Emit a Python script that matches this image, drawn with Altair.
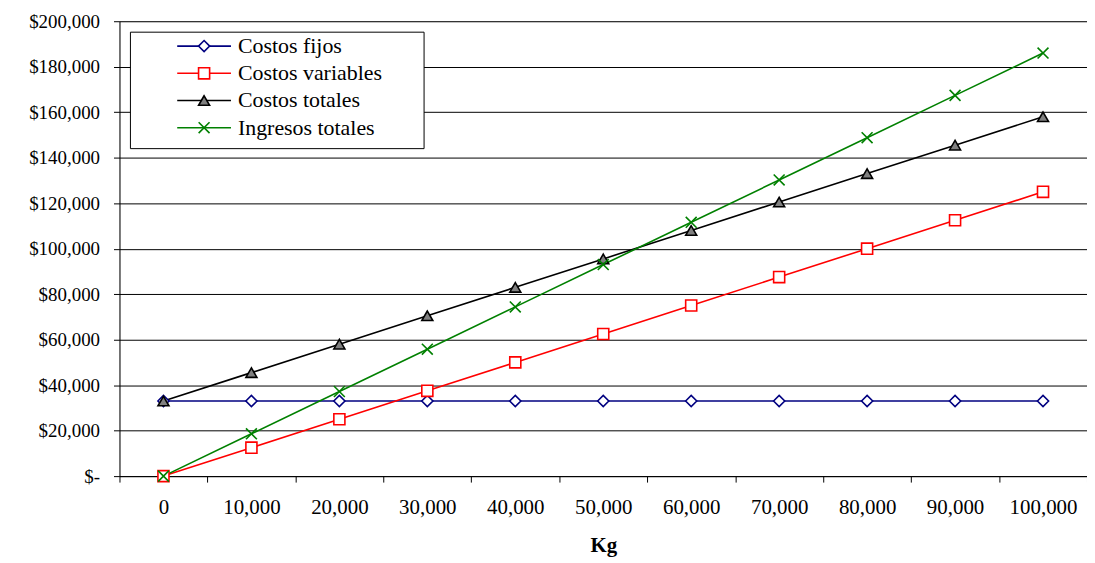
import altair as alt
import pandas as pd

# ---- data ----
kg = [0, 10000, 20000, 30000, 40000, 50000, 60000, 70000, 80000, 90000, 100000]
costos_fijos = [33000, 33000, 33000, 33000, 33000, 33000, 33000, 33000, 33000, 33000, 33000]
costos_variables = [0, 12500, 25000, 37500, 50000, 62500, 75000, 87500, 100000, 112500, 125000]
costos_totales = [33000, 45500, 58000, 70500, 83000, 95500, 108000, 120500, 133000, 145500, 158000]
ingresos_totales = [0, 18600, 37200, 55800, 74400, 93000, 111600, 130200, 148800, 167400, 186000]

series = ["Costos fijos", "Costos variables", "Costos totales", "Ingresos totales"]
colors = ["#000080", "#FF0000", "#000000", "#008000"]
fills = ["#FFFFFF", "#FFFFFF", "#808080", "transparent"]
shapes = ["diamond", "square", "triangle-up", "M-1,-1L1,1M-1,1L1,-1"]
sizes = [125, 120, 260, 190]
y_ticks = [0, 20000, 40000, 60000, 80000, 100000, 120000, 140000, 160000, 180000, 200000]

values = [costos_fijos, costos_variables, costos_totales, ingresos_totales]
rows = []
for s, vals in zip(series, values):
    for k, v in zip(kg, vals):
        rows.append({"kg": k, "valor": v, "serie": s})
df = pd.DataFrame(rows)
legend_df = pd.DataFrame({"serie": series})

FONT = "Liberation Serif"

color_scale = alt.Scale(domain=series, range=colors)
fill_scale = alt.Scale(domain=series, range=fills)
shape_scale = alt.Scale(domain=series, range=shapes)
size_scale = alt.Scale(domain=series, range=sizes)

x_enc = alt.X(
    "kg:O",
    sort=kg,
    scale=alt.Scale(type="band", paddingInner=0, paddingOuter=0),
    axis=alt.Axis(
        title="Kg",
        labelExpr="isNumber(datum.value) ? format(datum.value, ',') : ''",
        labelAngle=0,
        tickBand="extent",
        grid=False,
        domainColor="black",
        tickColor="black",
        tickSize=6,
        labelFont=FONT,
        labelFontSize=21,
        labelColor="black",
        labelPadding=15,
        titleFont=FONT,
        titleFontSize=21,
        titleFontWeight="bold",
        titleColor="black",
        titlePadding=17,
    ),
)

y_scale = alt.Scale(domain=[0, 200000], nice=False, zero=True)

lines = alt.Chart(df).mark_line(strokeWidth=1.6).encode(
    x=x_enc,
    y=alt.Y(
        "valor:Q",
        scale=y_scale,
        axis=alt.Axis(
            title=None,
            values=y_ticks,
            labelExpr="datum.value == 0 ? '$-\u00a0\u00a0\u00a0\u00a0\u00a0' : '$' + format(datum.value, ',')",
            grid=True,
            gridColor="black",
            gridWidth=1,
            domainColor="black",
            tickColor="black",
            tickSize=6,
            labelFont=FONT,
            labelFontSize=19,
            labelColor="black",
            labelPadding=14,
        ),
    ),
    color=alt.Color("serie:N", scale=color_scale, legend=None),
)

points = alt.Chart(df).mark_point(filled=True, opacity=1, strokeWidth=1.6).encode(
    x=x_enc,
    y=alt.Y("valor:Q", scale=y_scale, axis=None),
    shape=alt.Shape("serie:N", scale=shape_scale, legend=None),
    fill=alt.Fill("serie:N", scale=fill_scale, legend=None),
    stroke=alt.Stroke("serie:N", scale=color_scale, legend=None),
    size=alt.Size("serie:N", scale=size_scale, legend=None),
)

# ---- manual legend ----
leg_y = alt.Y(
    "serie:N",
    sort=series,
    scale=alt.Scale(type="point", domain=series, range=[25, 107], padding=0),
    axis=None,
)

leg_box = alt.Chart(pd.DataFrame({"a": [0]})).mark_rect(
    fill="white", stroke="black", strokeWidth=1
).encode(x=alt.value(11), x2=alt.value(306), y=alt.value(11), y2=alt.value(128))

leg_rules = alt.Chart(legend_df).mark_rule(strokeWidth=1.6).encode(
    x=alt.value(58),
    x2=alt.value(112),
    y=leg_y,
    color=alt.Color("serie:N", scale=color_scale, legend=None),
)

leg_points = alt.Chart(legend_df).mark_point(filled=True, opacity=1, strokeWidth=1.6).encode(
    x=alt.value(85),
    y=leg_y,
    shape=alt.Shape("serie:N", scale=shape_scale, legend=None),
    fill=alt.Fill("serie:N", scale=fill_scale, legend=None),
    stroke=alt.Stroke("serie:N", scale=color_scale, legend=None),
    size=alt.Size("serie:N", scale=size_scale, legend=None),
)

leg_text = alt.Chart(legend_df).mark_text(
    align="left", baseline="middle", font=FONT, fontSize=22, color="black"
).encode(
    x=alt.value(119),
    y=leg_y,
    text="serie:N",
)

chart = (
    alt.layer(lines, points, leg_box, leg_rules, leg_points, leg_text)
    .resolve_scale(y="independent")
    .properties(
        width=972,
        height=457,
        autosize=alt.AutoSizeParams(type="none"),
        padding={"left": 112, "top": 12, "right": 0, "bottom": 86},
    )
    .configure_view(stroke="#808080", strokeWidth=1)
    .configure(font=FONT, background="white")
)

chart.save("out.html", embed_options={"renderer": "svg", "actions": False})
